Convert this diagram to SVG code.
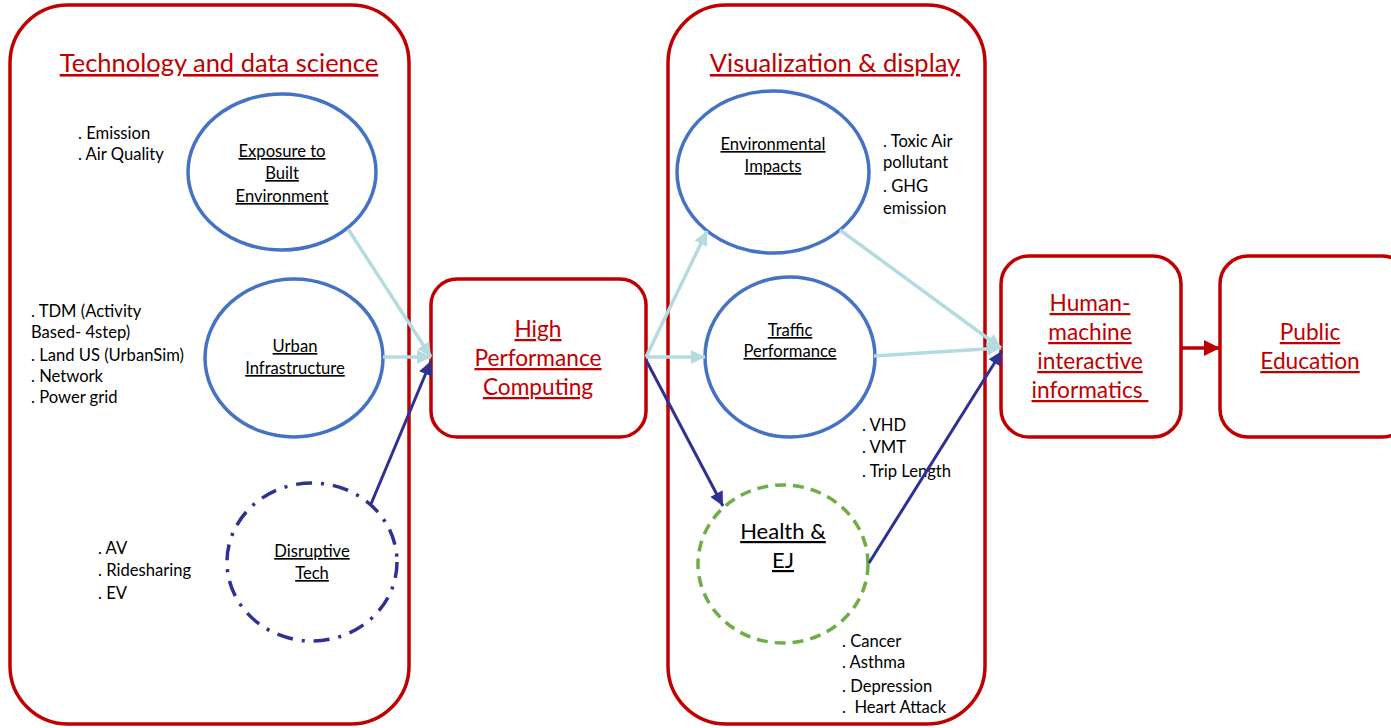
<svg xmlns="http://www.w3.org/2000/svg" width="1391" height="728" viewBox="0 0 1391 728">
  <style>
    .frame { fill: #fff; stroke: #C00000; stroke-width: 3.5; }
    .box { fill: #fff; stroke: #C00000; stroke-width: 3.5; }
    .node { fill: none; stroke: #4472C4; stroke-width: 3.5; }
    .title { font-family: Lato, "Liberation Sans", sans-serif; font-size: 25.5px; fill: #C00000; text-anchor: middle; text-decoration: underline; }
    .boxlbl { font-family: Lato, "Liberation Sans", sans-serif; font-size: 22.7px; fill: #C00000; text-anchor: middle; text-decoration: underline; }
    .lbl { font-family: Lato, "Liberation Sans", sans-serif; font-size: 16.6px; fill: #000; text-anchor: middle; text-decoration: underline; }
    .big { font-size: 22px; }
    .note { font-family: Lato, "Liberation Sans", sans-serif; font-size: 16.6px; fill: #000; }
    .light { stroke: #B4DCE0; stroke-width: 3.5; fill: none; }
    .dark { stroke: #2E3192; stroke-width: 3; fill: none; }
    .redline { stroke: #C00000; stroke-width: 3.5; fill: none; }
  </style>
  <defs>
    <marker id="ahLight" viewBox="0 0 10 10" refX="10" refY="5" markerWidth="16" markerHeight="14" markerUnits="userSpaceOnUse" orient="auto">
      <path d="M0,0 L10,5 L0,10 Z" fill="#B4DCE0"/>
    </marker>
    <marker id="ahDark" viewBox="0 0 10 10" refX="10" refY="5" markerWidth="16" markerHeight="14" markerUnits="userSpaceOnUse" orient="auto">
      <path d="M0,0 L10,5 L0,10 Z" fill="#2E3192"/>
    </marker>
    <marker id="ahRed" viewBox="0 0 10 10" refX="10" refY="5" markerWidth="16" markerHeight="16" markerUnits="userSpaceOnUse" orient="auto">
      <path d="M0,0 L10,5 L0,10 Z" fill="#C00000"/>
    </marker>
  </defs>
  <rect width="1391" height="728" fill="#fff"/>

  <!-- left panel -->
  <g id="panel-tech">
    <rect class="frame" x="10" y="5" width="399" height="719" rx="58"/>
    <text class="title" x="219" y="72">Technology and data science</text>
  </g>

  <!-- right panel -->
  <g id="panel-vis">
    <rect class="frame" x="668" y="5" width="317" height="719" rx="58"/>
    <text class="title" x="835" y="72">Visualization &amp; display</text>
  </g>

  <g id="node-exposure">
    <ellipse class="node" cx="282" cy="172" rx="94" ry="78"/>
    <text class="lbl" x="282" y="157">Exposure to</text>
    <text class="lbl" x="282" y="179">Built</text>
    <text class="lbl" x="282" y="202">Environment</text>
    <text class="note" x="78" y="139">. Emission</text>
    <text class="note" x="78" y="160">. Air Quality</text>
  </g>

  <g id="node-urban">
    <ellipse class="node" cx="294" cy="358" rx="89" ry="79"/>
    <text class="lbl" x="295" y="352">Urban</text>
    <text class="lbl" x="295" y="374">Infrastructure</text>
    <text class="note" x="31" y="317">. TDM (Activity</text>
    <text class="note" x="31" y="338">Based- 4step)</text>
    <text class="note" x="31" y="361">. Land US (UrbanSim)</text>
    <text class="note" x="31" y="382">. Network</text>
    <text class="note" x="31" y="403">. Power grid</text>
  </g>

  <g id="node-disruptive">
    <ellipse cx="312" cy="562" rx="85" ry="79" fill="none" stroke="#2E3192" stroke-width="3.5" stroke-dasharray="16 9 3 9"/>
    <text class="lbl" x="312" y="557">Disruptive</text>
    <text class="lbl" x="312" y="579">Tech</text>
    <text class="note" x="98" y="554">. AV</text>
    <text class="note" x="98" y="576">. Ridesharing</text>
    <text class="note" x="98" y="599">. EV</text>
  </g>

  <g id="node-hpc">
    <rect class="box" x="431" y="279" width="215" height="158" rx="26"/>
    <text class="boxlbl" x="538" y="337">High</text>
    <text class="boxlbl" x="538" y="366">Performance</text>
    <text class="boxlbl" x="538" y="395">Computing</text>
  </g>

  <g id="node-environmental">
    <ellipse class="node" cx="773" cy="172" rx="96" ry="81"/>
    <text class="lbl" x="773" y="150">Environmental</text>
    <text class="lbl" x="773" y="172">Impacts</text>
    <text class="note" x="883" y="147">. Toxic Air</text>
    <text class="note" x="883" y="168">pollutant</text>
    <text class="note" x="883" y="192">. GHG</text>
    <text class="note" x="883" y="214">emission</text>
  </g>

  <g id="node-traffic">
    <ellipse class="node" cx="790" cy="357" rx="85" ry="80"/>
    <text class="lbl" x="790" y="336">Traffic</text>
    <text class="lbl" x="790" y="357">Performance</text>
    <text class="note" x="862" y="431">. VHD</text>
    <text class="note" x="862" y="453">. VMT</text>
    <text class="note" x="862" y="477">. Trip Length</text>
  </g>

  <g id="node-health">
    <ellipse cx="783" cy="564" rx="85" ry="79" fill="none" stroke="#70AD47" stroke-width="3.5" stroke-dasharray="11 7"/>
    <text class="lbl big" x="783" y="539">Health &amp;</text>
    <text class="lbl big" x="783" y="568">EJ</text>
    <text class="note" x="842" y="647">. Cancer</text>
    <text class="note" x="842" y="668">. Asthma</text>
    <text class="note" x="842" y="692">. Depression</text>
    <text class="note" x="842" y="713" xml:space="preserve">.  Heart Attack</text>
  </g>

  <g id="node-hmi">
    <rect class="box" x="1001" y="256" width="180" height="181" rx="28"/>
    <text class="boxlbl" x="1090" y="311">Human-</text>
    <text class="boxlbl" x="1090" y="340">machine</text>
    <text class="boxlbl" x="1090" y="369">interactive</text>
    <text class="boxlbl" x="1090" y="398" xml:space="preserve">informatics </text>
  </g>

  <g id="node-public">
    <rect class="box" x="1220" y="256" width="190" height="181" rx="28"/>
    <text class="boxlbl" x="1310" y="340">Public</text>
    <text class="boxlbl" x="1310" y="369">Education</text>
  </g>

  <!-- connectors -->
  <g id="connectors">
    <line class="light" x1="348" y1="229" x2="431" y2="357" marker-end="url(#ahLight)"/>
    <line class="light" x1="383" y1="357" x2="431" y2="357" marker-end="url(#ahLight)"/>
    <line class="dark" x1="371" y1="504" x2="431" y2="361" marker-end="url(#ahDark)"/>
    <line class="light" x1="646" y1="357" x2="707" y2="231" marker-end="url(#ahLight)"/>
    <line class="light" x1="646" y1="357" x2="705" y2="357" marker-end="url(#ahLight)"/>
    <line class="dark" x1="646" y1="360" x2="723" y2="506" marker-end="url(#ahDark)"/>
    <line class="light" x1="840" y1="230" x2="1001" y2="348" marker-end="url(#ahLight)"/>
    <line class="light" x1="874" y1="356" x2="1001" y2="348" marker-end="url(#ahLight)"/>
    <line class="dark" x1="869" y1="563" x2="1002" y2="351" marker-end="url(#ahDark)"/>
    <line class="redline" x1="1181" y1="348" x2="1220" y2="348" marker-end="url(#ahRed)"/>
  </g>
</svg>
